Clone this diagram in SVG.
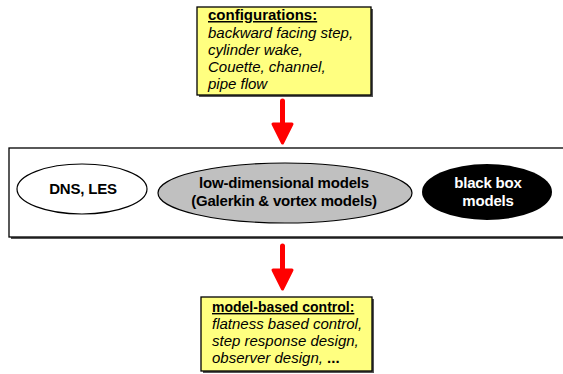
<svg xmlns="http://www.w3.org/2000/svg" width="563" height="374" viewBox="0 0 563 374">
<style>
.box{fill:#ffff80;stroke:#000;stroke-width:1.3}
.shadow{fill:#555}
.t{font-family:"Liberation Sans",Arial,sans-serif;font-size:15px;fill:#000}
.h{font-weight:bold;text-decoration:underline}
.i{font-style:italic}
.n{font-family:"Liberation Sans",Arial,sans-serif;font-size:15px;font-weight:bold;text-anchor:middle;letter-spacing:-0.2px}
.arrow{stroke:#ff0000;stroke-width:5;stroke-linecap:round;fill:none}
.head{fill:#ff0000;stroke:#ff0000;stroke-width:3;stroke-linejoin:round}
</style>
<rect width="563" height="374" fill="#fff"/>
<g id="configurations">
<rect class="shadow" x="199" y="9" width="174" height="88"/>
<rect class="box" x="197" y="7" width="174" height="88"/>
<text class="t h" x="208" y="20">configurations:</text>
<text class="t i" x="208" y="38">backward facing step,</text>
<text class="t i" x="208" y="55">cylinder wake,</text>
<text class="t i" x="208" y="72">Couette, channel,</text>
<text class="t i" x="208" y="89">pipe flow</text>
</g>
<g id="models-frame">
<rect class="shadow" x="11" y="150" width="560" height="89"/>
<rect x="9" y="148" width="560" height="89" fill="#fff" stroke="#000" stroke-width="1.3"/>
</g>
<g id="dns-les">
<ellipse cx="82" cy="189" rx="65" ry="25" fill="#fff" stroke="#000" stroke-width="1.2"/>
<text class="n" x="83" y="194">DNS, LES</text>
</g>
<g id="low-dimensional">
<ellipse cx="285" cy="193" rx="127" ry="30" fill="#c0c0c0" stroke="#000" stroke-width="1.2"/>
<text class="n" x="284" y="188">low-dimensional models</text>
<text class="n" x="284" y="206">(Galerkin &amp; vortex models)</text>
</g>
<g id="black-box">
<ellipse cx="487" cy="192" rx="65" ry="28" fill="#000"/>
<text class="n" x="488" y="188" style="fill:#fff">black box</text>
<text class="n" x="488" y="206" style="fill:#fff">models</text>
</g>
<g id="control">
<rect class="shadow" x="203" y="299" width="171" height="74"/>
<rect class="box" x="201" y="297" width="171" height="74"/>
<text class="t h" x="212" y="312" style="font-size:14px">model-based control:</text>
<text class="t i" x="212" y="329">flatness based control,</text>
<text class="t i" x="212" y="346">step response design,</text>
<text class="t i" x="212" y="363">observer design, <tspan font-weight="bold" font-style="normal">...</tspan></text>
</g>
<g id="connectors">
<line class="arrow" x1="282.5" y1="101" x2="282.5" y2="125"/>
<polygon class="head" points="273,124 292,124 282.5,143"/>
<line class="arrow" x1="282.5" y1="246" x2="282.5" y2="271"/>
<polygon class="head" points="273,270 292,270 282.5,289"/>
</g>
</svg>
